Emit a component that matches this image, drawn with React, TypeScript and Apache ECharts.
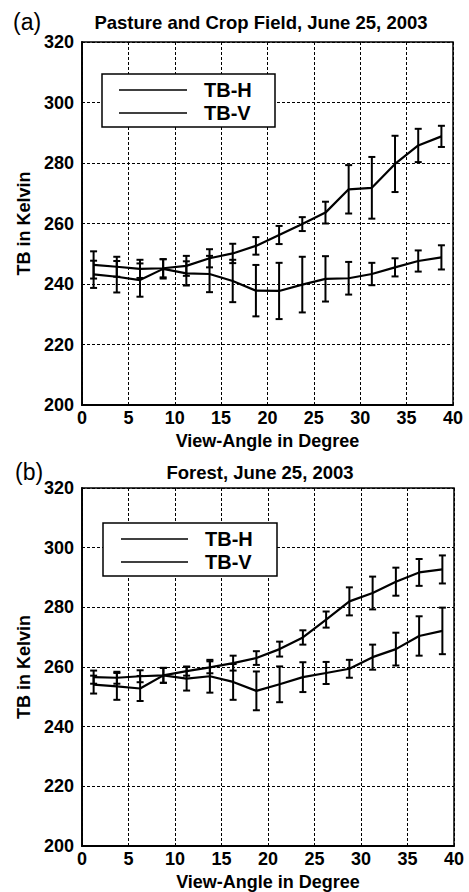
import React, { useEffect, useRef } from "react";
import * as echarts from "echarts";

const angles = [1.25, 3.75, 6.25, 8.75, 11.25, 13.75, 16.25, 18.75, 21.25, 23.75, 26.25, 28.75, 31.25, 33.75, 36.25, 38.75];

const pastureV = [246.3, 245.7, 245.0, 245.2, 246.0, 248.5, 250.1, 252.6, 256.2, 259.8, 263.6, 271.3, 271.8, 279.7, 285.8, 288.8];
const pastureVErr = [4.5, 3.3, 3.0, 3.0, 3.3, 3.0, 3.2, 2.9, 3.0, 2.3, 3.6, 8.0, 10.2, 9.3, 5.5, 3.5];
const pastureH = [243.2, 242.4, 241.3, 245.0, 243.5, 243.3, 241.0, 237.8, 237.7, 239.8, 241.7, 241.9, 243.3, 245.5, 247.6, 248.8];
const pastureHErr = [4.5, 5.2, 5.5, 3.2, 4.0, 6.0, 7.0, 8.5, 9.3, 9.2, 7.5, 5.4, 3.7, 3.0, 3.5, 4.0];

const forestV = [256.6, 256.4, 256.9, 257.2, 258.6, 259.9, 261.3, 263.0, 266.0, 269.9, 275.9, 282.0, 284.8, 288.6, 291.7, 292.7];
const forestVErr = [2.2, 2.0, 2.0, 2.5, 1.5, 2.0, 2.5, 2.3, 2.5, 2.4, 2.7, 4.7, 5.5, 4.7, 4.5, 4.7];
const forestH = [254.1, 253.5, 252.8, 257.2, 256.1, 256.9, 255.0, 252.0, 254.2, 256.6, 258.0, 259.4, 263.3, 266.0, 270.4, 272.1];
const forestHErr = [3.0, 4.5, 4.2, 2.5, 4.0, 5.5, 6.0, 6.5, 6.0, 5.0, 3.7, 3.0, 4.2, 5.5, 6.6, 7.8];

const panelTitles = ["Pasture and Crop Field, June 25, 2003", "Forest, June 25, 2003"];
const panelTags = ["(a)", "(b)"];
const legendNames = ["TB-H", "TB-V"];
const xAxisName = "View-Angle in Degree";
const yAxisName = "TB in Kelvin";

const FONT = "Liberation Sans";

function lineData(vals: number[]) {
  return angles.map((a, i) => [a, vals[i]]);
}
function errData(vals: number[], errs: number[]) {
  return angles.map((a, i) => [a, vals[i] - errs[i], vals[i] + errs[i]]);
}

function renderErr(params: any, api: any) {
  const x = api.value(0);
  const lo = api.coord([x, api.value(1)]);
  const hi = api.coord([x, api.value(2)]);
  const cap = 3.5;
  const st = { stroke: "#000", lineWidth: 2 };
  return {
    type: "group",
    children: [
      { type: "line", shape: { x1: lo[0], y1: lo[1], x2: hi[0], y2: hi[1] }, style: st },
      { type: "line", shape: { x1: lo[0] - cap, y1: lo[1], x2: lo[0] + cap, y2: lo[1] }, style: st },
      { type: "line", shape: { x1: hi[0] - cap, y1: hi[1], x2: hi[0] + cap, y2: hi[1] }, style: st },
    ],
  };
}

export default function App() {
  const ref = useRef<HTMLDivElement>(null);
  useEffect(() => {
    if (!ref.current) return;
    const chart = echarts.init(ref.current, null, { renderer: "svg" });
    const grids = [
      { left: 82, top: 42, width: 371, height: 363 },
      { left: 82, top: 488, width: 372, height: 363 },
    ];
    const axisLabel = { fontFamily: FONT, fontWeight: "bold", fontSize: 18, color: "#000" };
    const nameStyle = { fontFamily: FONT, fontWeight: "bold", fontSize: 18, color: "#000" };
    const splitLine = { show: true, lineStyle: { color: "#000", type: [3, 2], width: 1 } };
    const xAxes = grids.map((_, i) => ({
      type: "value",
      gridIndex: i,
      min: 0,
      max: 40,
      interval: 5,
      name: xAxisName,
      nameLocation: "middle",
      nameGap: 27,
      nameTextStyle: nameStyle,
      axisLine: { show: true, onZero: false, lineStyle: { color: "#000", width: 1.8 } },
      axisTick: { show: false },
      axisLabel: { ...axisLabel, margin: 4 },
      splitLine,
    }));
    const yAxes = grids.map((_, i) => ({
      type: "value",
      gridIndex: i,
      min: 200,
      max: 320,
      interval: 20,
      name: yAxisName,
      nameLocation: "middle",
      nameGap: 45,
      nameTextStyle: nameStyle,
      axisLine: { show: true, onZero: false, lineStyle: { color: "#000", width: 1.8 } },
      axisTick: { show: false },
      axisLabel: { ...axisLabel, margin: 8 },
      splitLine,
    }));
    const panels = [
      { v: pastureV, ve: pastureVErr, h: pastureH, he: pastureHErr },
      { v: forestV, ve: forestVErr, h: forestH, he: forestHErr },
    ];
    const series: any[] = [];
    panels.forEach((p, i) => {
      series.push({
        type: "line", name: legendNames[0], xAxisIndex: i, yAxisIndex: i,
        data: lineData(p.h), symbol: "none", lineStyle: { color: "#000", width: 2.2 }, z: 3,
      });
      series.push({
        type: "line", name: legendNames[1], xAxisIndex: i, yAxisIndex: i,
        data: lineData(p.v), symbol: "none", lineStyle: { color: "#000", width: 2.2 }, z: 3,
      });
      series.push({
        type: "custom", name: legendNames[0] + " err", xAxisIndex: i, yAxisIndex: i,
        data: errData(p.h, p.he), renderItem: renderErr, encode: { x: 0, y: [1, 2] }, z: 4,
      });
      series.push({
        type: "custom", name: legendNames[1] + " err", xAxisIndex: i, yAxisIndex: i,
        data: errData(p.v, p.ve), renderItem: renderErr, encode: { x: 0, y: [1, 2] }, z: 4,
      });
    });

    const legendBoxes = [
      { x: 102, y: 74, w: 173, h: 53, lx1: 119, lx2: 187, r1: 90, r2: 113, tx: 204 },
      { x: 103, y: 523, w: 174, h: 53, lx1: 121, lx2: 188, r1: 539, r2: 562, tx: 205 },
    ];
    const titlePos = [
      { x: 261, y: 22, tx: 13, ty: 22 },
      { x: 260, y: 472, tx: 15, ty: 472 },
    ];
    const graphic: any[] = [];
    legendBoxes.forEach((b, i) => {
      graphic.push({
        type: "rect", z: 100, shape: { x: b.x, y: b.y, width: b.w, height: b.h },
        style: { fill: "#fff", stroke: "#000", lineWidth: 1.5 },
      });
      [b.r1, b.r2].forEach((ry, k) => {
        graphic.push({
          type: "line", z: 101, shape: { x1: b.lx1, y1: ry, x2: b.lx2, y2: ry },
          style: { stroke: "#000", lineWidth: 1.5 },
        });
        graphic.push({
          type: "text", z: 101, x: b.tx, y: ry,
          style: { text: legendNames[k], fontFamily: FONT, fontWeight: "bold", fontSize: 20, fill: "#000", align: "left", verticalAlign: "middle" },
        });
      });
      const t = titlePos[i];
      graphic.push({
        type: "text", z: 101, x: t.x, y: t.y,
        style: { text: panelTitles[i], fontFamily: FONT, fontWeight: "bold", fontSize: 18.5, fill: "#000", align: "center", verticalAlign: "middle" },
      });
      graphic.push({
        type: "text", z: 101, x: t.tx, y: t.ty,
        style: { text: panelTags[i], fontFamily: FONT, fontWeight: "normal", fontSize: 23, fill: "#000", align: "left", verticalAlign: "middle" },
      });
    });

    chart.setOption({
      animation: false,
      backgroundColor: "#fff",
      grid: grids.map((g) => ({ ...g, show: true, borderColor: "#000", borderWidth: 1.5, backgroundColor: "transparent" })),
      xAxis: xAxes,
      yAxis: yAxes,
      series,
      graphic,
    });
    return () => chart.dispose();
  }, []);
  return (
    <div style={{ position: "absolute", left: 0, top: 0, width: 469, height: 892, background: "#fff" }}>
      <div ref={ref} style={{ width: 469, height: 892 }} />
    </div>
  );
}
